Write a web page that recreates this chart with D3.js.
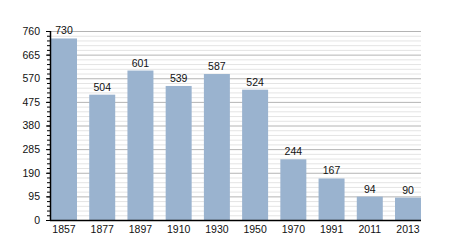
<!DOCTYPE html>
<html>
  <head>
    <script src="https://d3js.org/d3.v7.min.js"></script>
    <style>
      body { margin: 0; background: #fff; }
      svg { font: 10.5px "Liberation Sans", Arial, sans-serif; }
    </style>
  </head>
  <body>
    <svg width="450" height="250"></svg>
    <script>
      const years = ["1857", "1877", "1897", "1910", "1930", "1950", "1970", "1991", "2011", "2013"];
      const population = [730, 504, 601, 539, 587, 524, 244, 167, 94, 90];
      const yTicks = [0, 95, 190, 285, 380, 475, 570, 665, 760];

      const svg = d3.select("svg");
      const plotLeft = 50, plotRight = 421, plotTop = 31, plotBottom = 220;

      const x = d3.scaleBand().domain(years).range([plotLeft + 1, plotRight]).paddingInner(0.32).paddingOuter(0);
      const y = d3.scaleLinear().domain([0, 760]).range([plotBottom, plotTop]);

      const minor = d3.range(0, 761, 19);

      // grid lines
      svg.append("g").selectAll("line")
        .data(minor)
        .join("line")
        .attr("x1", plotLeft).attr("x2", plotRight)
        .attr("y1", d => y(d) + 0.5).attr("y2", d => y(d) + 0.5)
        .attr("stroke", d => d % 95 === 0 ? "#b4b4b4" : "#e4e4e4")
        .attr("stroke-width", 1);

      // bars
      svg.append("g").selectAll("rect")
        .data(population)
        .join("rect")
        .attr("x", (d, i) => x(years[i]))
        .attr("y", d => y(d))
        .attr("width", x.bandwidth())
        .attr("height", d => plotBottom - y(d))
        .attr("fill", "#9ab3cf");

      // value labels
      svg.append("g").selectAll("text")
        .data(population)
        .join("text")
        .attr("x", (d, i) => x(years[i]) + x.bandwidth() / 2)
        .attr("y", d => y(d) - 4)
        .attr("text-anchor", "middle")
        .attr("fill", "#111")
        .text(d => d);

      // left axis with minor ticks
      const ya = svg.append("g").attr("transform", `translate(${plotLeft},0)`);
      ya.call(d3.axisLeft(y).tickValues(minor).tickSize(3).tickFormat(""))
        .call(g => g.select(".domain").remove());
      ya.append("g").call(d3.axisLeft(y).tickValues(yTicks).tickSize(4).tickPadding(6))
        .call(g => g.select(".domain").remove())
        .call(g => g.selectAll("text").attr("fill", "#111").style("font-size", "10.5px").style("font-family", "'Liberation Sans', Arial, sans-serif"));
      ya.selectAll("line").attr("stroke", "#000");
      ya.append("line").attr("x1", 0.5).attr("x2", 0.5).attr("y1", plotTop).attr("y2", plotBottom + 1)
        .attr("stroke", "#000").attr("stroke-width", 1.5);

      // bottom axis
      const xa = svg.append("g").attr("transform", `translate(0,${plotBottom})`);
      xa.call(d3.axisBottom(x).tickSize(0).tickPadding(6))
        .call(g => g.select(".domain").remove())
        .call(g => g.selectAll("text").attr("fill", "#111").style("font-size", "10.5px").style("font-family", "'Liberation Sans', Arial, sans-serif"));
      xa.append("line").attr("x1", plotLeft).attr("x2", plotRight).attr("y1", 0.5).attr("y2", 0.5)
        .attr("stroke", "#000").attr("stroke-width", 1.5);
    </script>
  </body>
</html>
